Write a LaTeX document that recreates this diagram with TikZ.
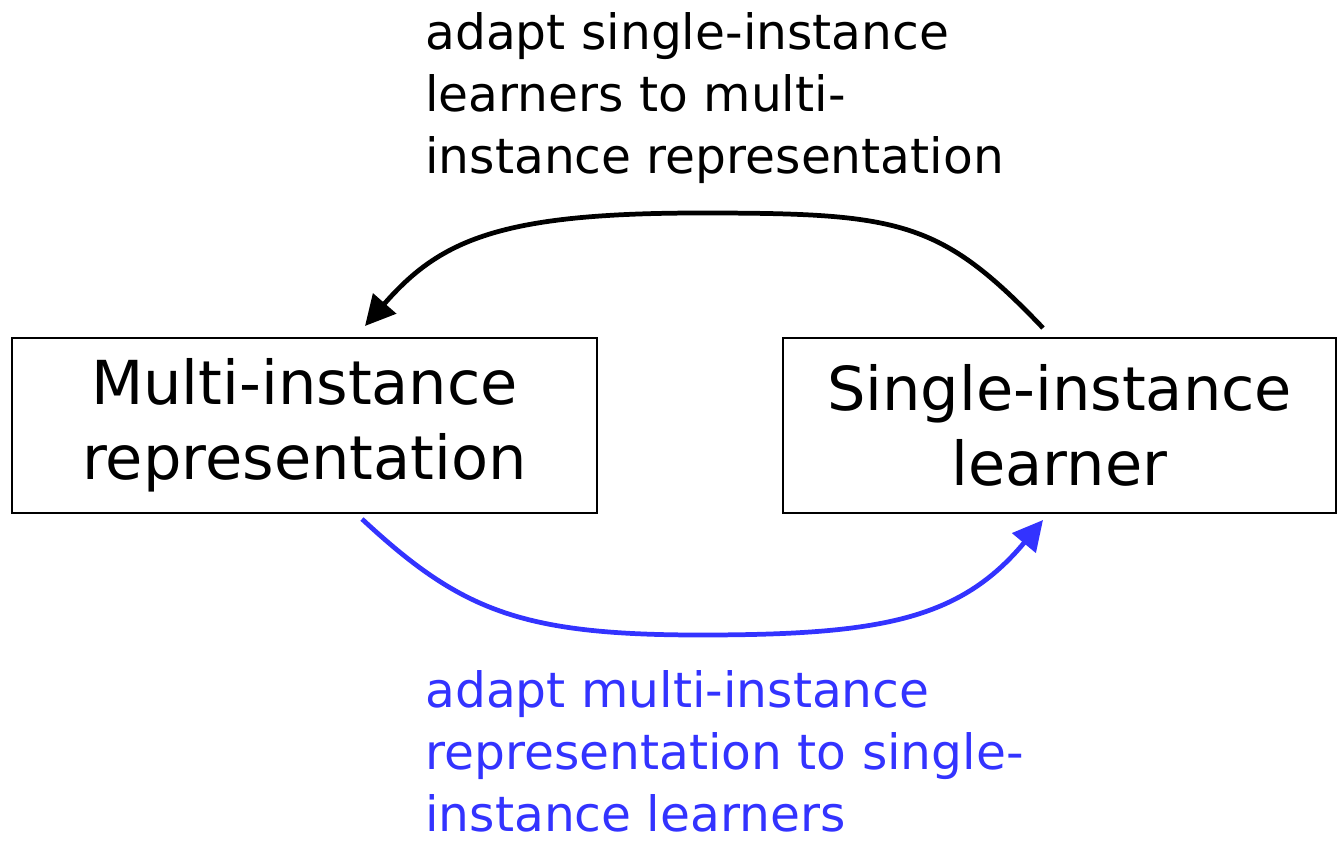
\documentclass[tikz,border=0pt]{standalone}
\usepackage{fontspec}
\setmainfont{DejaVu Sans}
\usetikzlibrary{arrows.meta}
\definecolor{linkblue}{HTML}{3333FF}
\begin{document}
\begin{tikzpicture}[x=0.02cm,y=-0.02cm,
  box/.style={draw,line width=1.2pt,minimum width=585*0.02cm,minimum height=175*0.02cm,
    align=center,font=\fontsize{34.5}{42.7}\selectfont,inner sep=0pt},
  flow/.style={line width=2.7pt,-{Triangle[length=0.6cm,width=0.6cm]}},
  note/.style={align=left,anchor=north west,font=\fontsize{27.7}{35.3}\selectfont,inner sep=0pt}]
\useasboundingbox (0,0) rectangle (1338,845);
\node[box] (multi) at (304.5,425.5) {Multi-instance\\representation};
\node[box,minimum width=553*0.02cm] (single) at (1059.5,425.5) {Single-instance\\learner};
\coordinate (bstart) at (1043,328);
\coordinate (bend) at (365,326);
\coordinate (ustart) at (362,519);
\coordinate (uend) at (1043,520);
\draw[flow] (bstart) .. controls (940,220) and (900,213) .. (700,213)
  .. controls (500,213) and (440,240) .. (bend);
\draw[flow,linkblue] (ustart) .. controls (460,610) and (520,635) .. (700,635)
  .. controls (880,635) and (960,620) .. (uend);
\node[note] (topnote) at (425,12) {adapt single-instance\\learners to multi-\\instance representation};
\node[note,text=linkblue] (botnote) at (425,670) {adapt multi-instance\\representation to single-\\instance learners};
\end{tikzpicture}
\end{document}
